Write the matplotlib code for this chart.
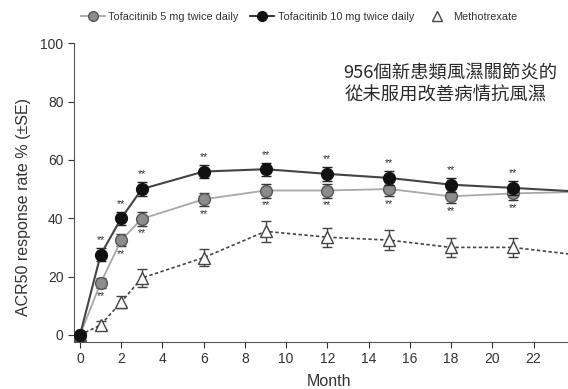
import matplotlib.pyplot as plt
from matplotlib.lines import Line2D

plt.rcParams['font.family'] = ['Liberation Sans', 'DejaVu Sans']

# ACR50 response rate by month
months = [0, 1, 2, 3, 6, 9, 12, 15, 18, 21, 24]
tofa5 = [0, 17.8, 32.5, 39.8, 46.5, 49.5, 49.5, 50.0, 47.5, 48.5, 49.0]
tofa5_se = [0, 1.8, 2.0, 2.3, 2.2, 2.4, 2.4, 2.4, 2.4, 2.4, 2.4]
tofa10 = [0, 27.5, 40.0, 50.0, 56.0, 56.8, 55.2, 53.8, 51.5, 50.4, 49.2]
tofa10_se = [0, 2.2, 2.2, 2.3, 2.3, 2.3, 2.4, 2.4, 2.4, 2.4, 2.4]
mtx = [0, 3.4, 11.3, 19.5, 26.5, 35.5, 33.5, 32.5, 30.0, 30.0, 27.5]
mtx_se = [0, 1.5, 2.2, 3.0, 3.0, 3.7, 3.3, 3.3, 3.3, 3.3, 3.3]
star_months = [1, 2, 3, 6, 9, 12, 15, 18, 21]

fig = plt.figure(figsize=(5.68, 3.89), dpi=100)
ax = fig.add_axes([0.130, 0.121, 0.90, 0.768])

ax.errorbar(months, mtx, yerr=mtx_se, color='#444444', ls=(0, (2, 1.5)), lw=1.2,
            marker='^', ms=8, mfc='white', mec='#444444', capsize=3.5, elinewidth=1, zorder=2)
ax.errorbar(months, tofa5, yerr=tofa5_se, color='#a8a8a8', lw=1.3, marker='o', ms=8.5,
            mfc='#8c8c8c', mec='#555555', ecolor='#333333', capsize=3.5, elinewidth=1, zorder=3)
ax.errorbar(months, tofa10, yerr=tofa10_se, color='#444444', lw=1.5, marker='o', ms=8.5,
            mfc='#111111', mec='#111111', ecolor='#222222', capsize=3.5, elinewidth=1, zorder=4)

for m in star_months:
    i = months.index(m)
    ax.text(m, tofa10[i] + tofa10_se[i] + 1.0, '**', ha='center', va='bottom', fontsize=7.5, color='#333333')
    ax.text(m, tofa5[i] - tofa5_se[i] - 1.0, '**', ha='center', va='top', fontsize=7.5, color='#333333')

ax.set_xlim(-0.3, 24.5)
ax.set_ylim(-2.4, 100)
ax.set_xticks(range(0, 25, 2))
ax.set_yticks([0, 20, 40, 60, 80, 100])
ax.tick_params(labelsize=10, colors='#333333', length=4, width=0.8)
ax.spines['top'].set_visible(False)
ax.spines['right'].set_visible(False)
ax.spines['left'].set_bounds(-2.4, 100)
for s in ['left', 'bottom']:
    ax.spines[s].set_color('#555555')
ax.set_xlabel('Month', fontsize=11.5, color='#333333')
ax.set_ylabel('ACR50 response rate % (±SE)', fontsize=11.5, color='#333333')
ax.xaxis.set_label_coords(0.5, -0.108)
ax.yaxis.set_label_coords(-0.084, 0.452)

handles = [
    Line2D([], [], color='#a8a8a8', lw=1.3, marker='o', ms=7, mfc='#8c8c8c', mec='#555555'),
    Line2D([], [], color='#222222', lw=1.3, marker='o', ms=7, mfc='#111111', mec='#111111'),
    Line2D([], [], color='none', marker='^', ms=7, mfc='white', mec='#444444'),
]
labels = ['Tofacitinib 5 mg twice daily', 'Tofacitinib 10 mg twice daily', 'Methotrexate']
fig.legend(handles, labels, loc='center left', bbox_to_anchor=(0.125, 0.957), ncol=3,
           frameon=False, fontsize=7.8, handlelength=2.2, handletextpad=0.35, columnspacing=1.05,
           labelcolor='#333333')

fig.text(0.604, 0.810, '956個新患類風濕關節炎的', fontsize=13.2, color='#2a2a2a',
         va='center', family=['Noto Sans CJK TC', 'DejaVu Sans'])
fig.text(0.606, 0.753, '從未服用改善病情抗風濕', fontsize=13.2, color='#2a2a2a',
         va='center', family=['Noto Sans CJK TC', 'DejaVu Sans'])

fig.savefig('out.png', dpi=100)
